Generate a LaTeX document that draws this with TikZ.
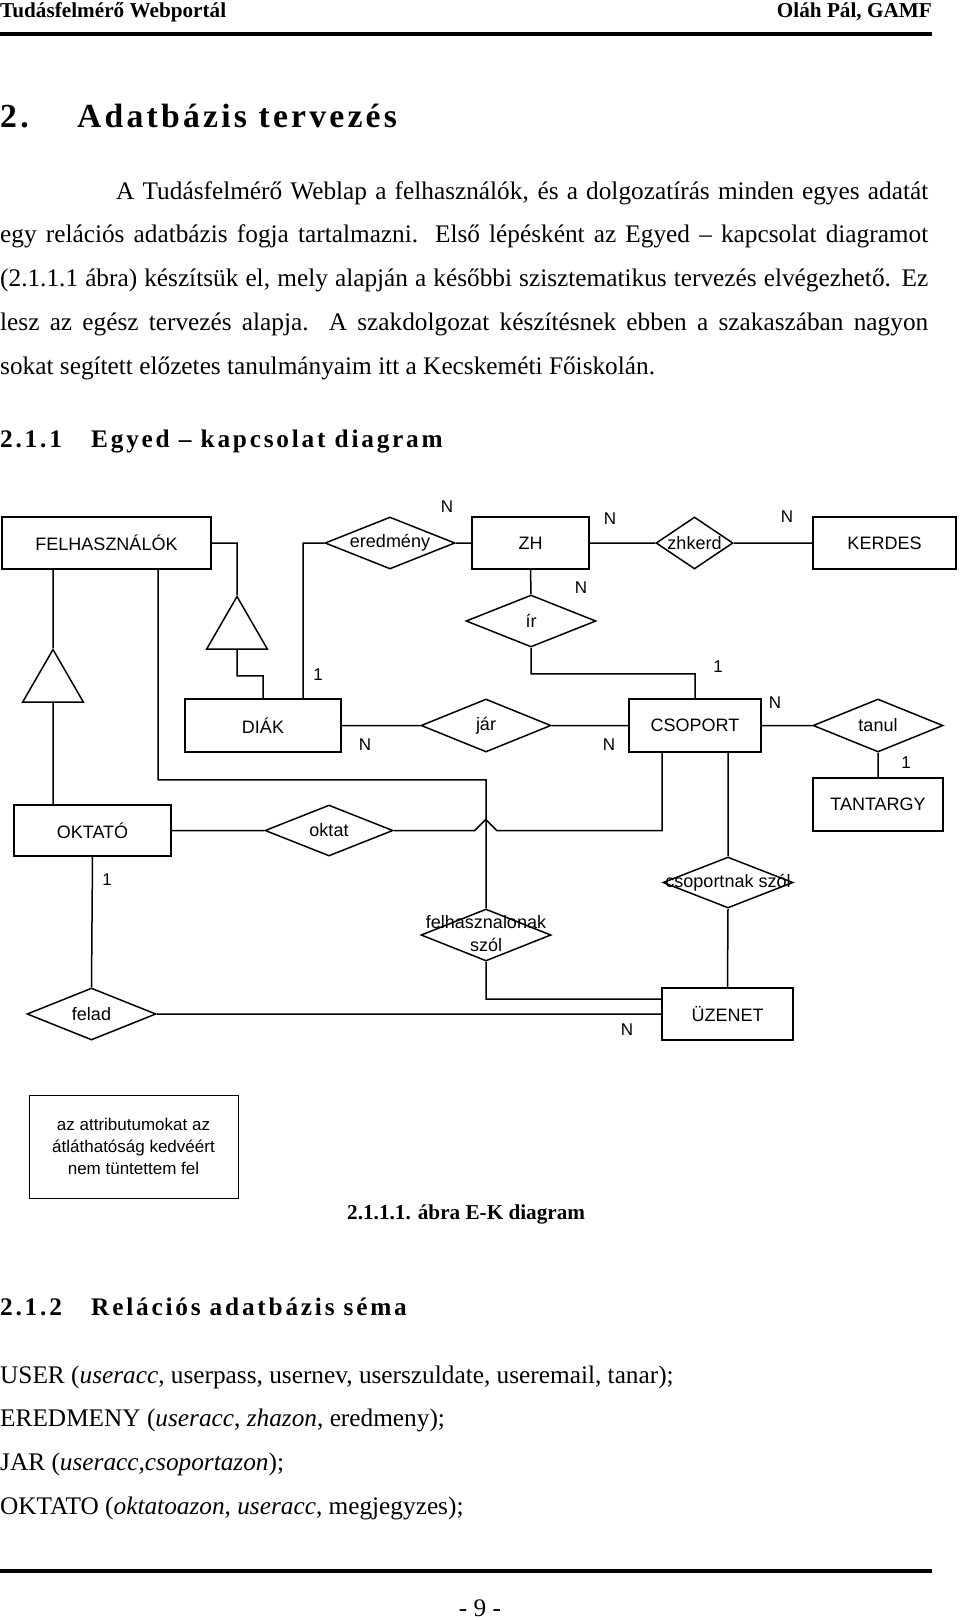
\documentclass[tikz,border=0pt]{standalone}
\usepackage{fontspec}
\setmainfont{Liberation Serif}
\newfontfamily\ekfont{Liberation Sans}
\usetikzlibrary{shapes.geometric}

\begin{document}
\begin{tikzpicture}[x=1pt, y=-1pt,
  szov/.style={anchor=base west, inner sep=0pt, font=\fontsize{25.3}{30}\selectfont},
  fej/.style={anchor=base west, inner sep=0pt, font=\fontsize{21.2}{24}\selectfont\bfseries},
  alcim/.style={anchor=base west, inner sep=0pt, font=\fontsize{25.3}{30}\selectfont\bfseries\addfontfeatures{LetterSpace=11}},
  focim/.style={anchor=base west, inner sep=0pt, font=\fontsize{33.7}{38}\selectfont\bfseries\addfontfeatures{LetterSpace=9.5}},
  egyed/.style={draw, line width=1.5, inner sep=0pt, font=\ekfont\fontsize{18}{23}\selectfont},
  kapcs/.style={draw, diamond, aspect=2.5, line width=1.5, inner sep=0pt, minimum width=130, minimum height=52, font=\ekfont\fontsize{18}{23}\selectfont},
  isa/.style={draw, regular polygon, regular polygon sides=3, line width=1.5, inner sep=0pt, minimum size=70},
  kard/.style={inner sep=0pt, font=\ekfont\fontsize{17}{20}\selectfont}]
\useasboundingbox (0,0) rectangle (960,1620);

\node[fej] (fej1) at (0,17) {Tudásfelmérő Webportál};
\node[fej, anchor=base east] (fej2) at (932,17) {Oláh Pál, GAMF};
\draw[line width=4] (0,34) -- (932,34);
\node[focim] (fc1) at (0,127) {2.};
\node[focim] (fc2) at (77,127) {Adatbázis tervezés};
\node[szov] (p1) at (116,199) {\makebox[812pt][s]{A Tudásfelmérő Weblap a felhasználók, és a dolgozatírás minden egyes adatát}};
\node[szov] (p2) at (0,242) {\makebox[928pt][s]{egy relációs adatbázis fogja tartalmazni. Első lépésként az Egyed – kapcsolat diagramot}};
\node[szov] (p3) at (0,286) {\makebox[928pt][s]{(2.1.1.1 ábra) készítsük el, mely alapján a későbbi szisztematikus tervezés elvégezhető. Ez}};
\node[szov] (p4) at (0,330) {\makebox[928pt][s]{lesz az egész tervezés alapja. A szakdolgozat készítésnek ebben a szakaszában nagyon}};
\node[szov] (p5) at (0,374) {sokat segített előzetes tanulmányaim itt a Kecskeméti Főiskolán.};
\node[alcim] (ac1) at (0,447) {2.1.1};
\node[alcim] (ac2) at (91,447) {Egyed – kapcsolat diagram};

\node[egyed, minimum width=209, minimum height=52] (felh) at (106.5,543) {FELHASZNÁLÓK};
\node[egyed, minimum width=117, minimum height=52] (zh) at (530.5,543) {ZH};
\node[egyed, minimum width=143, minimum height=52] (kerdes) at (884.5,543) {KERDES};
\node[egyed, minimum width=156, minimum height=53] (diak) at (263,725.5) {DIÁK};
\node[egyed, minimum width=132, minimum height=53] (csop) at (695,725.5) {CSOPORT};
\node[egyed, minimum width=130, minimum height=53] (tant) at (878,804.5) {TANTARGY};
\node[egyed, minimum width=157, minimum height=51] (okt) at (92.5,830.5) {OKTATÓ};
\node[egyed, minimum width=131, minimum height=52] (uzen) at (727.5,1014) {ÜZENET};

\node[kapcs] (ered) at (390,543) {eredmény};
\node[kapcs, minimum width=77, aspect=1.5] (zhk) at (694.5,543) {\makebox[0pt]{zhkerd}};
\node[kapcs] (ir) at (531,621) {ír};
\node[kapcs, minimum height=53] (jar) at (486,725.5) {jár};
\node[kapcs, minimum height=53] (tanul) at (878,725.5) {tanul};
\node[kapcs, minimum width=128, minimum height=51] (oktat) at (329,830.5) {oktat};
\node[kapcs, minimum width=129] (felad) at (91.5,1014) {felad};
\node[kapcs, minimum height=51] (cssz) at (728,882.5) {\makebox[0pt]{csoportnak szól}};
\node[kapcs] (fsz) at (486,935) {\makebox[0pt]{\begin{tabular}{@{}c@{}}felhasznalonak\\szól\end{tabular}}};

\node[isa, anchor=corner 1] (isa1) at (237,595) {};
\node[isa, anchor=corner 1] (isa2) at (53,648) {};

\draw[line width=1.5] (felh.east) -| (isa1.corner 1)
  (isa1.side 2) -- ++(0,26) -| (diak.north)
  (isa2.corner 1) -- (isa2.corner 1 |- felh.south)
  (isa2.side 2) -- (isa2.side 2 |- okt.north)
  ([xshift=51.5]felh.south) -- ++(0,210) -| (fsz.north)
  (ered.west) -| ([xshift=40]diak.north)
  (ered.east) -- (zh.west)
  (zh.east) -- (zhk.west) (zhk.east) -- (kerdes.west)
  (zh.south) -- (ir.north)
  (ir.south) -- ++(0,26) -| (csop.north)
  (diak.east) -- (jar.west) (jar.east) -- (csop.west)
  (csop.east) -- (tanul.west) (tanul.south) -- (tant.north)
  (okt.east) -- (oktat.west)
  (oktat.east) -- ++(81,0) -- ++(11,-11) -- ++(11,11) -| ([xshift=-33]csop.south)
  (cssz.north) -- (cssz.north |- csop.south)
  (cssz.south) -- (uzen.north)
  (okt.south) -- (felad.north)
  (felad.east) -- (uzen.west)
  (fsz.south) |- ([yshift=15]uzen.west);

\node[kard] (k1) at (447,507) {N};
\node[kard] (k2) at (610,519) {N};
\node[kard] (k3) at (787,517) {N};
\node[kard] (k4) at (581,588) {N};
\node[kard] (k5) at (318,675) {1};
\node[kard] (k6) at (718,667) {1};
\node[kard] (k7) at (365,745) {N};
\node[kard] (k8) at (609,745) {N};
\node[kard] (k9) at (775,703) {N};
\node[kard] (k10) at (906,763) {1};
\node[kard] (k11) at (107,880) {1};
\node[kard] (k12) at (627,1030) {N};

\node[draw, line width=1, minimum width=209, minimum height=103, align=center, font=\ekfont\fontsize{17}{22}\selectfont] (megj) at (133.5,1146.5) {az attributumokat az\\átláthatóság kedvéért\\nem tüntettem fel};
\node[fej] (abra) at (347,1219) {2.1.1.1. ábra E-K diagram};

\node[alcim] (bc1) at (0,1315) {2.1.2};
\node[alcim] (bc2) at (91,1315) {Relációs adatbázis séma};
\node[szov] (s1) at (0,1383) {USER (\textit{useracc}, userpass, usernev, userszuldate, useremail, tanar);};
\node[szov] (s2) at (0,1426) {EREDMENY (\textit{useracc}, \textit{zhazon}, eredmeny);};
\node[szov] (s3) at (0,1470) {JAR (\textit{useracc,csoportazon});};
\node[szov] (s4) at (0,1514) {OKTATO (\textit{oktatoazon}, \textit{useracc}, megjegyzes);};
\draw[line width=4] (0,1571) -- (932,1571);
\node[szov, anchor=base] (lap) at (480,1616) {- 9 -};
\end{tikzpicture}
\end{document}
